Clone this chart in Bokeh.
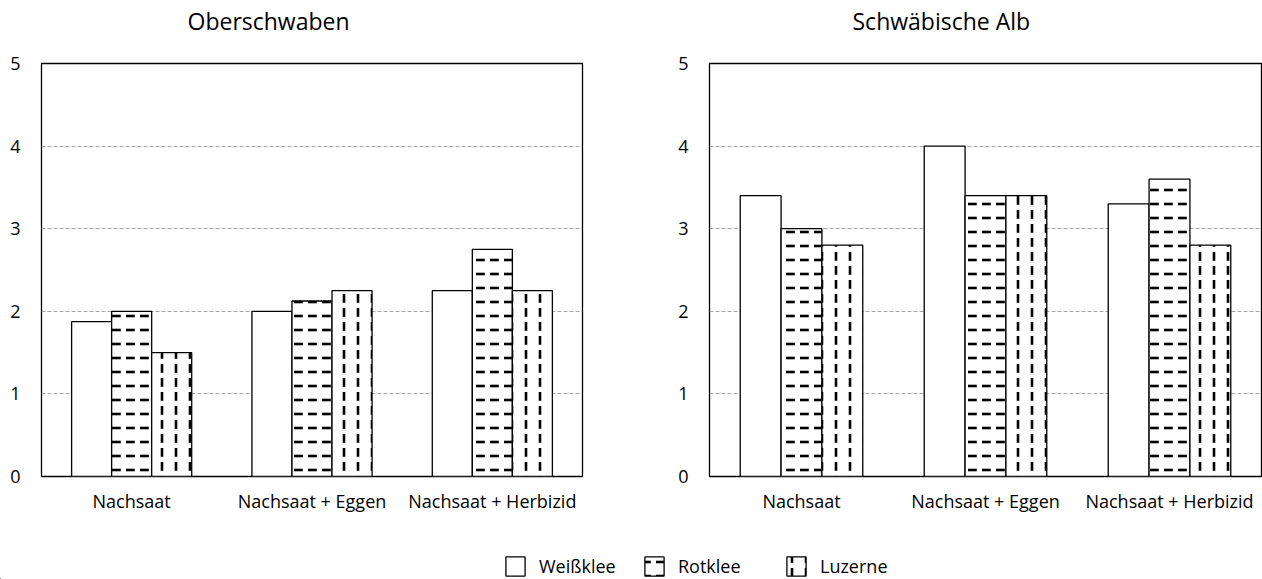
from bokeh.plotting import figure
from bokeh.models import (FactorRange, Range1d, Title, Legend, LegendItem,
                          FixedTicker, ColumnDataSource)
from bokeh.core.properties import value
from bokeh.layouts import column, row
from bokeh.transform import dodge
from bokeh.embed import file_html
from bokeh.resources import INLINE

categories = ["Nachsaat", "Nachsaat + Eggen", "Nachsaat + Herbizid"]
series_names = ["Weißklee", "Rotklee", "Luzerne"]
panel_titles = ["Oberschwaben", "Schwäbische Alb"]

ober_weissklee = [1.875, 2.0, 2.25]
ober_rotklee = [2.0, 2.125, 2.75]
ober_luzerne = [1.5, 2.25, 2.25]

alb_weissklee = [3.4, 4.0, 3.3]
alb_rotklee = [3.0, 3.4, 3.6]
alb_luzerne = [2.8, 3.4, 2.8]

y_ticks = [0, 1, 2, 3, 4, 5]

FONT = "Open Sans"
BW = 0.222
BAR_LINE = 1.3
patterns = [None, "horizontal_dash", "vertical_dash"]


def bar_style(i):
    st = dict(fill_color="white", line_color="black", line_width=BAR_LINE)
    if patterns[i]:
        st.update(hatch_pattern=value(patterns[i]), hatch_color="black",
                  hatch_weight=2.6, hatch_scale=14)
    return st


def make_panel(title, w, r, l, border_left, frame_w, border_right, t_off):
    p = figure(x_range=FactorRange(*categories, range_padding=0),
               y_range=Range1d(0, 5),
               frame_width=frame_w, frame_height=413,
               min_border_left=border_left, min_border_right=border_right,
               min_border_top=63, min_border_bottom=45,
               output_backend="svg", toolbar_location=None)
    src = ColumnDataSource(dict(cat=categories, w=w, r=r, l=l))
    for i, (col, off) in enumerate([("w", -BW), ("r", 0.0), ("l", BW)]):
        p.vbar(x=dodge("cat", off, range=p.x_range), top=col, width=BW,
               source=src, **bar_style(i))
    # spacer between frame and title
    p.add_layout(Title(text=" ", text_font_size="1px", standoff=22), "above")
    p.add_layout(Title(text=title, align="left", offset=t_off,
                       text_font=FONT, text_font_size="23px",
                       text_font_style="normal", text_color="black",
                       standoff=4), "above")
    p.xgrid.visible = False
    p.ygrid.ticker = FixedTicker(ticks=y_ticks)
    p.ygrid.grid_line_color = "#a6a6a6"
    p.ygrid.grid_line_dash = "4 2"
    p.ygrid.grid_line_width = 1
    p.yaxis.ticker = FixedTicker(ticks=y_ticks)
    p.axis.axis_line_color = None
    p.axis.major_tick_line_color = None
    p.axis.minor_tick_line_color = None
    p.axis.major_label_text_font = FONT
    p.axis.major_label_text_font_size = "18px"
    p.axis.major_label_text_color = "black"
    p.yaxis.major_label_standoff = 15
    p.xaxis.major_label_standoff = 6
    p.outline_line_color = "black"
    p.outline_line_width = 1.3
    p.outline_line_alpha = 1
    p.background_fill_color = "white"
    p.border_fill_color = "white"
    return p


p1 = make_panel(panel_titles[0], ober_weissklee, ober_rotklee, ober_luzerne,
                41, 541, 22, 146)
p2 = make_panel(panel_titles[1], alb_weissklee, alb_rotklee, alb_luzerne,
                105, 552, 1, 143)

# legend strip
lg = figure(width=1262, height=58, x_range=Range1d(10, 11),
            y_range=Range1d(10, 11), x_axis_location=None,
            y_axis_location=None, min_border=0,
            output_backend="svg", toolbar_location=None)
lg.grid.visible = False
lg.outline_line_color = None
idx = list(range(len(categories)))
rends = []
for i, vals in enumerate([ober_weissklee, ober_rotklee, ober_luzerne]):
    rends.append(lg.vbar(x=idx, top=vals, width=BW, **bar_style(i)))

legend_x = [503, 642, 784]
for name, rr, lx in zip(series_names, rends, legend_x):
    leg = Legend(items=[LegendItem(label=name, renderers=[rr])],
                 location=(lx, 1), orientation="horizontal",
                 glyph_width=24, glyph_height=24, label_standoff=12,
                 label_text_font=FONT, label_text_font_size="18px",
                 label_text_color="black", border_line_color=None,
                 background_fill_alpha=0, padding=0, margin=0, spacing=0)
    lg.add_layout(leg)

layout = column(row(p1, p2, spacing=0), lg, spacing=0)
open("out.html", "w").write(file_html(layout, INLINE))
